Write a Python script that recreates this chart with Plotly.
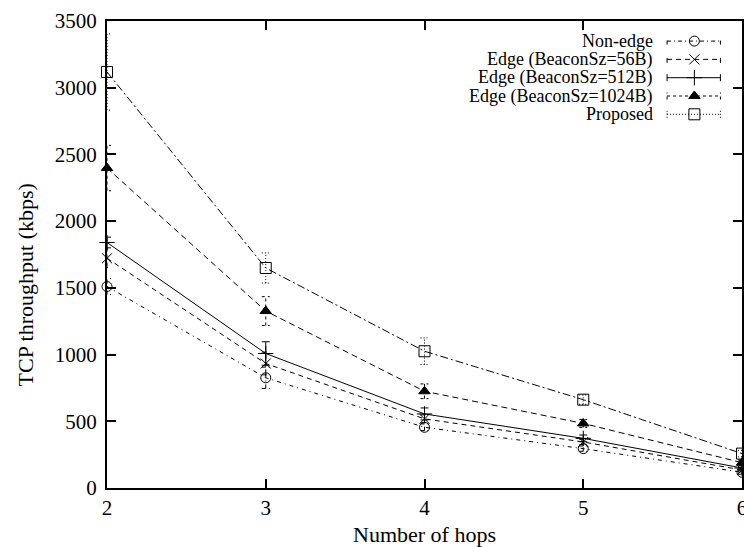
import plotly.graph_objects as go

# ---- data ----
hops = [2, 3, 4, 5, 6]
series_names = ["Non-edge", "Edge (BeaconSz=56B)", "Edge (BeaconSz=512B)",
                "Edge (BeaconSz=1024B)", "Proposed"]
non_edge = [1510, 826, 455, 295, 118]
edge_56 = [1722, 933, 518, 345, 135]
edge_512 = [1840, 1008, 555, 372, 150]
edge_1024 = [2398, 1326, 725, 484, 190]
proposed = [3118, 1649, 1025, 662, 258]

err_non_edge = [60, 80, 25, 20, 15]
err_56 = [70, 85, 30, 20, 15]
err_512 = [40, 88, 45, 25, 15]
err_1024 = [170, 108, 55, 30, 20]
err_proposed = [285, 113, 100, 35, 25]

y_ticks = [0, 500, 1000, 1500, 2000, 2500, 3000, 3500]

values = [non_edge, edge_56, edge_512, edge_1024, proposed]
errors = [err_non_edge, err_56, err_512, err_1024, err_proposed]

# ---- styles ----
FONT = "Liberation Serif"
markers = ["circle-open", "x-thin-open", "cross-thin-open", "triangle-up", "square-open"]
marker_sizes = [10, 10, 11, 10, 11]
plot_dash = ["4px,4px,1px,4px", "5px,4px", "solid", "6px,4px", "8px,3px,2px,3px"]
err_dash = ["4px,3px,1px,3px", "5px,3px", "solid", "3px,3px", "1px,2px"]
legend_dash = ["4px,3px,1px,3px", "5px,4px", "solid", "3px,3px", "1px,2px"]

fig = go.Figure()

cap = 0.025
for name, ys, es, mk, ms, pd_, ed in zip(series_names, values, errors, markers,
                                          marker_sizes, plot_dash, err_dash):
    # error bars
    ex, ey = [], []
    for x, y, e in zip(hops, ys, es):
        ex += [x, x, None, x - cap, x + cap, None, x - cap, x + cap, None]
        ey += [y - e, y + e, None, y - e, y - e, None, y + e, y + e, None]
    fig.add_trace(go.Scatter(x=ex, y=ey, mode="lines", showlegend=False,
                             line=dict(color="black", width=1, dash=ed),
                             hoverinfo="skip"))
    # line + markers
    fig.add_trace(go.Scatter(x=hops, y=ys, mode="lines+markers", name=name,
                             showlegend=False, cliponaxis=False,
                             line=dict(color="black", width=1, dash=pd_),
                             marker=dict(symbol=mk, size=ms, color="black",
                                         line=dict(color="black", width=1))))

# ---- custom gnuplot-style legend (text right, sample left) ----
text_right = 0.861
s0, s1, sm = 0.882, 0.966, 0.925
row_top, row_step = 0.957, 0.0392
tick_h = 0.0075
for i, (name, mk, ms, ld) in enumerate(zip(series_names, markers, marker_sizes, legend_dash)):
    yy = row_top - i * row_step
    fig.add_annotation(x=text_right, y=yy, xref="paper", yref="paper", text=name,
                       showarrow=False, xanchor="right", yanchor="middle", borderpad=0,
                       font=dict(family=FONT, size=18, color="black"))
    fig.add_trace(go.Scatter(x=[s0, s1, None, s0, s0, None, s1, s1],
                             y=[yy, yy, None, yy - tick_h, yy + tick_h, None, yy - tick_h, yy + tick_h],
                             xaxis="x2", yaxis="y2", mode="lines", showlegend=False,
                             line=dict(color="black", width=1, dash=ld), hoverinfo="skip"))
    fig.add_trace(go.Scatter(x=[sm], y=[yy], xaxis="x2", yaxis="y2", mode="markers",
                             showlegend=False, cliponaxis=False,
                             marker=dict(symbol=mk, size=ms, color="black",
                                         line=dict(color="black", width=1))))

# y-axis title placed like the gnuplot original
fig.add_annotation(x=-0.129, y=0.434, xref="paper", yref="paper",
                   text="TCP throughput (kbps)", textangle=-90, showarrow=False,
                   xanchor="center", yanchor="middle",
                   font=dict(family=FONT, size=22, color="black"))

axis_common = dict(showline=True, linecolor="black", linewidth=2, mirror="ticks",
                   ticks="inside", ticklen=9, tickwidth=1.5, tickcolor="black",
                   showgrid=False, zeroline=False, ticklabeloverflow="allow",
                   tickfont=dict(family=FONT, size=21, color="black"))

fig.update_layout(
    width=744, height=547,
    margin=dict(l=107, r=2, t=21, b=59, autoexpand=False),
    paper_bgcolor="white", plot_bgcolor="white",
    showlegend=False,
    xaxis=dict(range=[2, 6], tickvals=hops, ticktext=[str(h) for h in hops],
               title=dict(text="Number of hops", standoff=11,
                          font=dict(family=FONT, size=22, color="black")),
               automargin=False, **axis_common),
    yaxis=dict(range=[0, 3500], tickvals=y_ticks, ticktext=[str(t) for t in y_ticks],
               ticklabelstandoff=4, automargin=False, **axis_common),
    xaxis2=dict(overlaying="x", range=[0, 1], visible=False, domain=[0, 1]),
    yaxis2=dict(overlaying="y", range=[0, 1], visible=False, domain=[0, 1]),
)

fig.write_html("out.html")
